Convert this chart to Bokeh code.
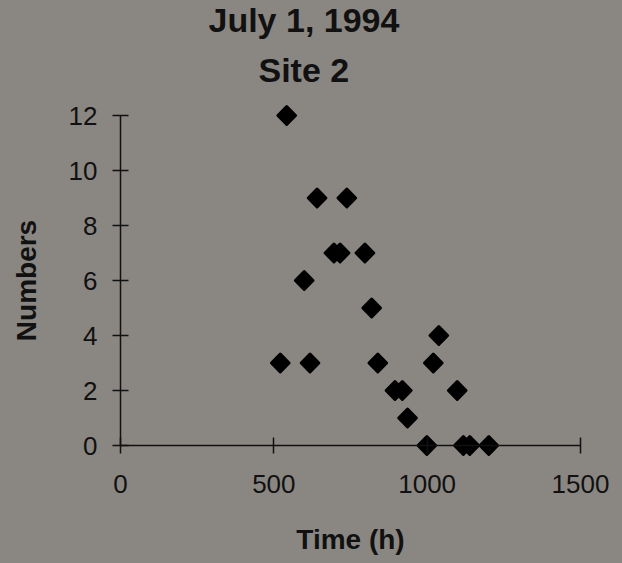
import numpy as np
from bokeh.plotting import figure
from bokeh.models import Range1d, FixedTicker, Title, Span
from bokeh.embed import file_html
from bokeh.resources import INLINE

# ---- data ----
time_h = [521, 542, 599, 618, 641, 696, 716, 738, 797, 819, 839,
          895, 919, 936, 999, 1020, 1038, 1098, 1118, 1139, 1201]
numbers = [3, 12, 6, 3, 9, 7, 7, 9, 7, 5, 3,
           2, 2, 1, 0, 3, 4, 2, 0, 0, 0]
x_ticks = [0, 500, 1000, 1500]
y_ticks = [0, 2, 4, 6, 8, 10, 12]
title_line1 = "July 1, 1994"
title_line2 = "Site 2"
x_label = "Time (h)"
y_label = "Numbers"

BG = "#8a8782"
INK = "#111111"
FONT = "Liberation Sans"

p = figure(width=622, height=563, output_backend="svg", toolbar_location=None,
           x_range=Range1d(0, 1500), y_range=Range1d(-0.4, 12.4),
           min_border_left=120, min_border_right=42,
           min_border_top=104, min_border_bottom=107,
           styles={"background-color": BG})

p.background_fill_color = None
p.border_fill_color = BG
p.outline_line_color = None
p.grid.visible = False

# titles (p.title is outermost)
p.title.text = title_line1
p.title.align = "left"
p.title.offset = 88
p.title.text_font = FONT
p.title.text_font_size = "34px"
p.title.text_font_style = "bold"
p.title.text_color = INK
p.title.standoff = -13
p.add_layout(Title(text=title_line2, align="left", offset=138, text_font=FONT,
                   text_font_size="34px", text_font_style="bold",
                   text_color=INK, standoff=32), "above")

# axes
for ax in (p.xaxis[0], p.yaxis[0]):
    ax.axis_line_color = INK
    ax.axis_line_width = 1.5
    ax.major_tick_line_color = INK
    ax.major_tick_line_width = 1.5
    ax.minor_tick_line_color = None
    ax.major_label_text_font = FONT
    ax.major_label_text_font_size = "26px"
    ax.major_label_text_color = INK
    ax.axis_label_text_font = FONT
    ax.axis_label_text_font_size = "28px"
    ax.axis_label_text_font_style = "bold"
    ax.axis_label_text_color = INK

xa = p.xaxis[0]
ya = p.yaxis[0]
xa.ticker = FixedTicker(ticks=x_ticks)
ya.ticker = FixedTicker(ticks=y_ticks)
ya.bounds = (0, 12)
xa.axis_label = x_label
ya.axis_label = y_label

# x axis: frame bottom sits 0.4 units below zero; ticks shifted to cross y=0
xa.axis_line_color = None
xa.major_tick_in = 19
xa.major_tick_out = -3
xa.major_label_standoff = 18
xa.axis_label_standoff = 28
p.add_layout(Span(location=0, dimension="width", line_color=INK, line_width=1.5))

ya.major_tick_in = 8
ya.major_tick_out = 8
ya.major_label_standoff = 15
ya.axis_label_standoff = 24

p.scatter(time_h, numbers, marker="square", angle=np.pi / 4, size=12.5,
          fill_color="black", line_color="black", line_width=3,
          line_join="round")

open("out.html", "w").write(file_html(p, INLINE))
